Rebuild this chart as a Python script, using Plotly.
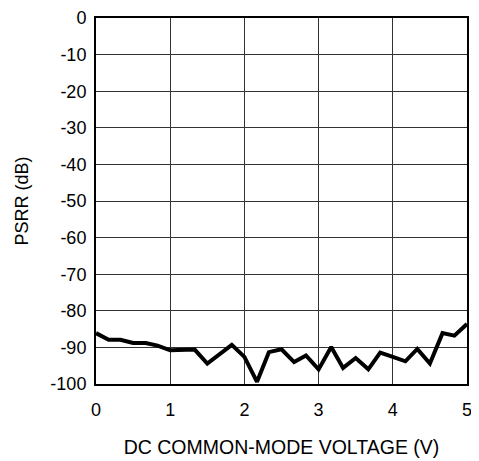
import plotly.graph_objects as go

voltage = [0, 0.17, 0.33, 0.5, 0.67, 0.83, 1.0, 1.17, 1.33, 1.5, 1.67, 1.83, 2.0, 2.17, 2.33,
           2.5, 2.67, 2.83, 3.0, 3.17, 3.33, 3.5, 3.67, 3.83, 4.0, 4.17, 4.33, 4.5, 4.67, 4.83, 5.0]
psrr = [-86.1, -87.9, -87.9, -88.8, -88.8, -89.5, -90.8, -90.6, -90.6, -94.4, -91.7, -89.3, -92.6,
        -99.4, -91.3, -90.5, -94.0, -92.2, -96.0, -89.9, -95.6, -92.9, -96.0, -91.4, -92.6, -93.8,
        -90.4, -94.4, -86.1, -86.8, -83.6]

x_ticks = [0, 1, 2, 3, 4, 5]
y_ticks = [0, -10, -20, -30, -40, -50, -60, -70, -80, -90, -100]
y_labels = [str(v) for v in y_ticks]

fig = go.Figure()
fig.add_trace(go.Scatter(x=voltage, y=psrr, mode="lines",
                         line=dict(color="black", width=4), showlegend=False))

fam = "Liberation Sans, Arial, sans-serif"
tick_font = dict(family=fam, size=18, color="black")
fig.update_layout(
    width=471, height=453,
    margin=dict(l=88, r=12, t=10, b=77),
    plot_bgcolor="white", paper_bgcolor="white",
    font=tick_font,
)
fig.update_xaxes(range=[0, 5], tickvals=x_ticks, ticktext=[str(v) for v in x_ticks],
                 showgrid=True, gridcolor="#333333", gridwidth=1,
                 showline=True, linecolor="black", linewidth=2, mirror=True,
                 ticks="", ticklen=0, zeroline=False, automargin=False,
                 tickfont=tick_font, ticklabelstandoff=8, ticklabeloverflow="allow",
                 title=dict(text="DC COMMON-MODE VOLTAGE (V)", standoff=22,
                            font=dict(family=fam, size=19.5, color="black")))
fig.update_yaxes(range=[-100, 0], tickvals=y_ticks, ticktext=y_labels,
                 showgrid=True, gridcolor="#333333", gridwidth=1,
                 showline=True, linecolor="black", linewidth=2, mirror=True,
                 ticks="", ticklen=0, zeroline=False, automargin=False,
                 tickfont=tick_font, ticklabelstandoff=4, ticklabeloverflow="allow",
                 title=dict(text="PSRR (dB)", standoff=17,
                            font=dict(family=fam, size=18, color="black")))

fig.write_html("out.html")
